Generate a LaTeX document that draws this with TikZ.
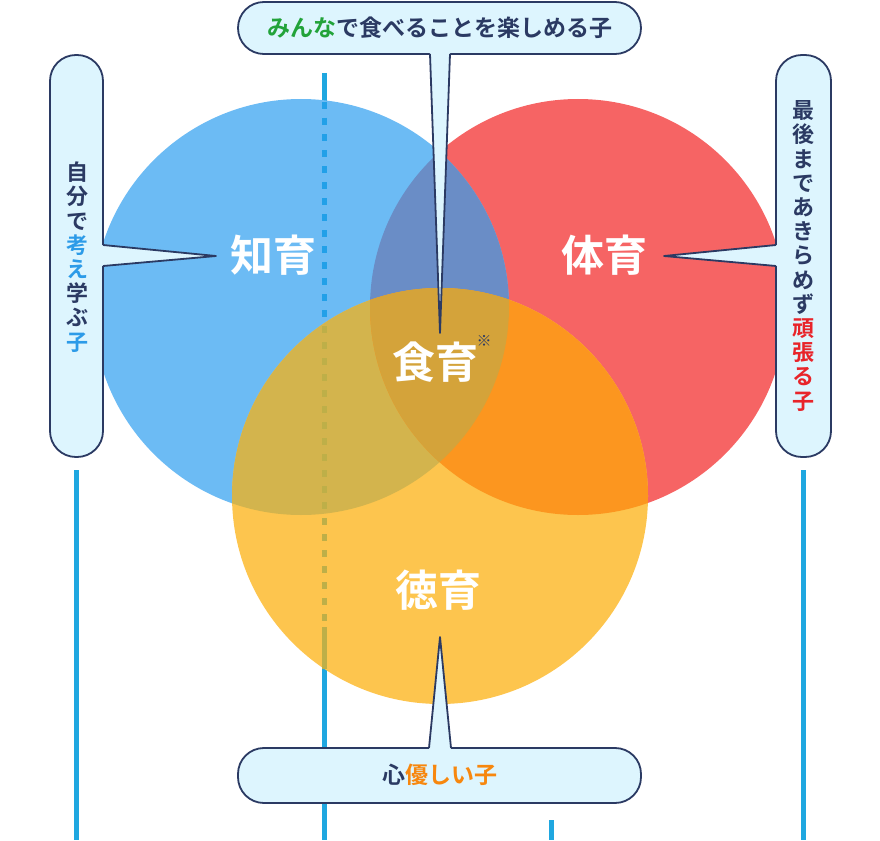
\documentclass[tikz,border=0pt]{standalone}
\usepackage{fontspec}
\setmainfont{Noto Sans CJK JP}[BoldFont=* Bold]
\definecolor{navy}{HTML}{2B3A63}
\definecolor{cbg}{HTML}{DDF5FE}
\definecolor{lineblue}{HTML}{1FA7E0}
\definecolor{cblue}{HTML}{6CBBF4}
\definecolor{cred}{HTML}{F66464}
\definecolor{cyel}{HTML}{FDC54E}
\definecolor{cbr}{HTML}{6A8DC6}
\definecolor{cby}{HTML}{D3B44D}
\definecolor{cry}{HTML}{FC961F}
\definecolor{call}{HTML}{D4A33A}
\definecolor{tgreen}{HTML}{22A33A}
\definecolor{tblue}{HTML}{2C9BE8}
\definecolor{tred}{HTML}{E8242A}
\definecolor{torange}{HTML}{F7870E}
\definecolor{dashblue}{HTML}{22A0E8}
\definecolor{olive}{HTML}{BEAF48}
\tikzset{
  vline/.style={draw=lineblue, line width=5pt},
  pill/.style={fill=cbg, draw=navy, line width=1.8pt, rounded corners=25.9pt},
  ptrfill/.style={fill=cbg},
  ptrline/.style={draw=navy, line width=1.8pt, line join=round},
  htext/.style={text=navy, font=\bfseries\fontsize{23}{26}\selectfont, inner sep=0pt},
  vtext/.style={text=navy, font=\bfseries\fontsize{22}{24.2}\selectfont, align=center, inner sep=0pt},
  clabel/.style={text=white, font=\bfseries\fontsize{43}{45}\selectfont, inner sep=0pt},
}
\begin{document}
\begin{tikzpicture}[x=1pt,y=-1pt]
\useasboundingbox (0,0) rectangle (880,840);
% vertical lines (behind)
\draw[vline] (324,73) -- (324,840);
\draw[vline] (76,470) -- (76,840);
\draw[vline] (803,470) -- (803,840);
\draw[vline] (551,820) -- (551,840);
% circles
\fill[cred] (578,307) circle[radius=208pt];
\fill[cblue] (301,307) circle[radius=208pt];
\fill[cyel] (440,496) circle[radius=208pt];
\begin{scope}
  \clip (301,307) circle[radius=208pt];
  \fill[cbr] (578,307) circle[radius=208pt];
  \fill[cby] (440,496) circle[radius=208pt];
\end{scope}
\begin{scope}
  \clip (578,307) circle[radius=208pt];
  \fill[cry] (440,496) circle[radius=208pt];
  \clip (301,307) circle[radius=208pt];
  \fill[call] (440,496) circle[radius=208pt];
\end{scope}
% dashed part of the middle line
\draw[draw=olive, line width=5pt, dash pattern=on 7pt off 9pt] (324,102) -- (324,627);
\begin{scope}
  \clip (300,90) rectangle (350,323.4);
  \draw[draw=dashblue, line width=5pt, dash pattern=on 7pt off 9pt] (324,102) -- (324,627);
\end{scope}
\draw[draw=olive, line width=5pt] (324,627) -- (324,669.2);
% circle labels
\node[clabel] (chi) at (273,255) {知育};
\node[clabel] (tai) at (604,255) {体育};
\node[clabel] (shoku) at (435,362) {食育};
\node[text=navy, font=\bfseries\fontsize{15}{15}\selectfont, inner sep=0pt] (kome) at (484,341) {※};
\node[clabel] (toku) at (438,590) {徳育};
% top callout
\path[pill] (238,2) rectangle (641,54);
\fill[ptrfill] (429.8,50) -- (440,333) -- (450.2,50) -- cycle;
\draw[ptrline] (430,54) -- (440,333) -- (450,54);
\node[htext] (toptext) at (440,28) {\textcolor{tgreen}{みんな}で食べることを楽しめる子};
% left callout
\path[pill] (50,55) rectangle (103,457);
\fill[ptrfill] (99,244.8) -- (216,256) -- (99,266.2) -- cycle;
\draw[ptrline] (103,245) -- (216,256) -- (103,266);
\node[vtext] (lefttext) at (77,257) {自\\分\\で\\\textcolor{tblue}{考}\\\textcolor{tblue}{え}\\学\\ぶ\\\textcolor{tblue}{子}};
% right callout
\path[pill] (776,55) rectangle (831,457);
\fill[ptrfill] (780,244.8) -- (664,256) -- (780,266.2) -- cycle;
\draw[ptrline] (776,245) -- (664,256) -- (776,266);
\node[vtext] (righttext) at (803,256) {最\\後\\ま\\で\\あ\\き\\ら\\め\\ず\\\textcolor{tred}{頑}\\\textcolor{tred}{張}\\\textcolor{tred}{る}\\\textcolor{tred}{子}};
% bottom callout
\path[pill] (238,748) rectangle (641,803);
\fill[ptrfill] (428.8,752) -- (440,637) -- (451.2,752) -- cycle;
\draw[ptrline] (429,748) -- (440,637) -- (451,748);
\node[htext] (bottext) at (440,775) {心\textcolor{torange}{優しい子}};
\end{tikzpicture}
\end{document}
